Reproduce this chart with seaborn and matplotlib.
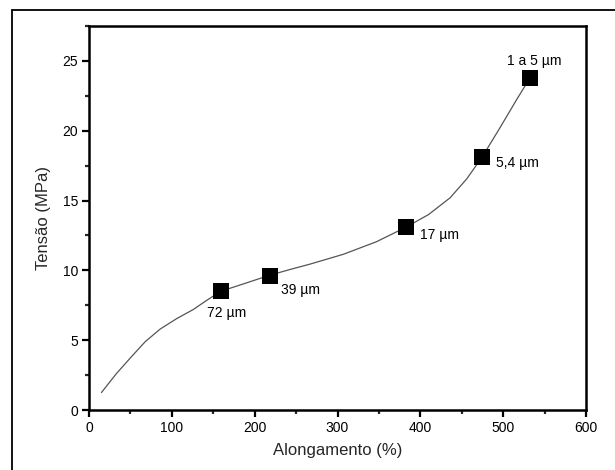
import matplotlib
matplotlib.use("Agg")
import matplotlib.pyplot as plt
from matplotlib.lines import Line2D
from matplotlib.ticker import MultipleLocator
import seaborn as sns
import pandas as pd

# Fitted curve
curve_x = [15, 33, 51, 68, 86, 106, 126, 142, 159, 190, 218, 245, 267, 307, 347, 383, 410, 436, 456, 475, 496, 516, 532]
curve_y = [1.25, 2.6, 3.8, 4.9, 5.8, 6.55, 7.2, 7.85, 8.5, 9.1, 9.65, 10.1, 10.45, 11.15, 12.05, 13.1, 14.0, 15.2, 16.55, 18.15, 20.2, 22.2, 23.75]

# Measured points
point_x = [159, 218, 383, 475, 532]
point_y = [8.5, 9.62, 13.13, 18.15, 23.75]
point_labels = ["72 µm", "39 µm", "17 µm", "5,4 µm", "1 a 5 µm"]

sns.set_theme(style="ticks")
plt.rcParams['font.family'] = ['Liberation Sans', 'DejaVu Sans']

fig = plt.figure(figsize=(6.15, 4.70), dpi=100)
ax = fig.add_axes([89/615, 1-410/470, (586-89)/615, (410-26)/470])

curve_df = pd.DataFrame({"x": curve_x, "y": curve_y})
pts_df = pd.DataFrame({"x": point_x, "y": point_y})

sns.lineplot(data=curve_df, x="x", y="y", ax=ax, color="#555555", linewidth=0.9, sort=False)
sns.scatterplot(data=pts_df, x="x", y="y", ax=ax, marker="s", s=125, color="black",
                edgecolor="black", linewidth=0, zorder=3)

# label positions (x, y, ha)
label_pos = [(142, 6.95, "left"), (232, 8.6, "left"), (400, 12.5, "left"),
             (491, 17.7, "left"), (538, 25.0, "center")]
for (lx, ly, ha), t in zip(label_pos, point_labels):
    ax.text(lx, ly, t, ha=ha, va="center", fontsize=10, color="black")

ax.set_xlim(0, 600)
ax.set_ylim(0, 27.5)
ax.xaxis.set_major_locator(MultipleLocator(100))
ax.xaxis.set_minor_locator(MultipleLocator(50))
ax.yaxis.set_major_locator(MultipleLocator(5))
ax.yaxis.set_minor_locator(MultipleLocator(2.5))
ax.tick_params(which="major", direction="out", length=5, width=1.6, labelsize=10,
               colors="black", pad=3)
ax.tick_params(which="minor", direction="out", length=3, width=1.6)
ax.tick_params(top=False, right=False, which="both")
for sp in ax.spines.values():
    sp.set_visible(True)
    sp.set_linewidth(1.8)
    sp.set_color("black")

ax.set_xlabel("Alongamento (%)", fontsize=12, labelpad=6)
ax.set_ylabel("Tensão (MPa)", fontsize=12, labelpad=8)

# outer frame (left and top lines)
fig.add_artist(Line2D([12/615, 12/615], [0, 1-10/470], transform=fig.transFigure,
                      color="black", linewidth=1.3))
fig.add_artist(Line2D([12/615, 1], [1-10/470, 1-10/470], transform=fig.transFigure,
                      color="black", linewidth=1.3))

fig.savefig("out.png", dpi=100, facecolor="white")
